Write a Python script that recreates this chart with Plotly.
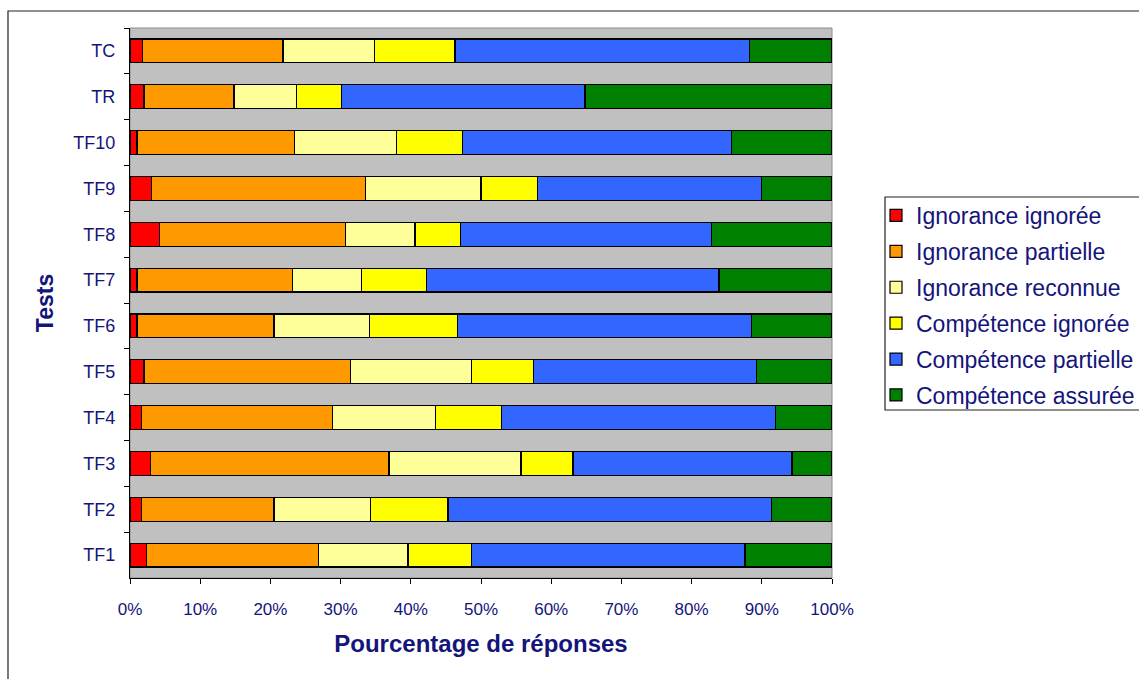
import plotly.graph_objects as go

# Tests, listed from top to bottom
tests = ["TC", "TR", "TF10", "TF9", "TF8", "TF7", "TF6", "TF5", "TF4", "TF3", "TF2", "TF1"]

# Percentage of answers per category
ignorance_ignoree = [1.8, 2.0, 1.0, 3.1, 4.2, 1.0, 1.0, 2.0, 1.6, 2.9, 1.6, 2.4]
ignorance_partielle = [20.0, 12.8, 22.4, 30.4, 26.5, 22.1, 19.5, 29.4, 27.3, 34.0, 18.9, 24.4]
ignorance_reconnue = [13.0, 8.9, 14.6, 16.5, 9.9, 9.9, 13.6, 17.3, 14.6, 18.8, 13.8, 12.8]
competence_ignoree = [11.5, 6.4, 9.4, 8.0, 6.5, 9.2, 12.5, 8.8, 9.4, 7.4, 11.0, 9.1]
competence_partielle = [41.9, 34.7, 38.3, 31.9, 35.7, 41.7, 41.9, 31.8, 39.1, 31.2, 46.1, 38.9]
competence_assuree = [11.8, 35.2, 14.3, 10.1, 17.2, 16.1, 11.5, 10.7, 8.0, 5.7, 8.6, 12.4]

series_names = [
    "Ignorance ignorée",
    "Ignorance partielle",
    "Ignorance reconnue",
    "Compétence ignorée",
    "Compétence partielle",
    "Compétence assurée",
]
series_values = [
    ignorance_ignoree,
    ignorance_partielle,
    ignorance_reconnue,
    competence_ignoree,
    competence_partielle,
    competence_assuree,
]
series_colors = ["#FF0000", "#FF9900", "#FFFF99", "#FFFF00", "#3366FF", "#008000"]

NAVY = "#14147a"
FONT = "Liberation Sans, Arial, sans-serif"

W, H = 1139, 679
L, R, T, B = 130, 832, 28, 578

fig = go.Figure()
for name, vals, col in zip(series_names, series_values, series_colors):
    fig.add_trace(go.Bar(
        y=tests, x=vals, name=name, orientation="h",
        marker=dict(color=col, line=dict(color="black", width=1.2)),
        legendgroup=name,
    ))

def px(xp):
    return (xp - L) / (R - L)

def py(yp):
    return (B - yp) / (B - T)

shapes = [
    # outer frame around the whole chart
    dict(type="rect", xref="paper", yref="paper",
         x0=px(8), x1=px(1160), y0=py(700), y1=py(11),
         line=dict(color="#222222", width=1.2), layer="below"),
    # plot area border
    dict(type="rect", xref="paper", yref="paper",
         x0=0, x1=1, y0=0, y1=1,
         line=dict(color="#8c8c8c", width=1), layer="below"),
    # legend box
    dict(type="rect", xref="paper", yref="paper",
         x0=px(885), x1=px(1170), y0=py(410), y1=py(197),
         line=dict(color="#222222", width=1.2), fillcolor="white", layer="below"),
]

fig.update_layout(
    width=W, height=H,
    margin=dict(l=L, r=W - R, t=T, b=H - B, autoexpand=False),
    barmode="stack",
    bargap=0.48,
    plot_bgcolor="#C0C0C0",
    paper_bgcolor="white",
    font=dict(family=FONT, color=NAVY, size=18),
    shapes=shapes,
    showlegend=True,
    legend=dict(
        x=px(876), xanchor="left", y=py(194), yanchor="top",
        borderwidth=0, bgcolor="rgba(0,0,0,0)",
        font=dict(size=23, color=NAVY, family=FONT),
        traceorder="grouped", tracegroupgap=3,
        itemwidth=30,
    ),
    xaxis=dict(
        range=[0, 100], dtick=10, ticksuffix="%",
        showgrid=False, zeroline=False,
        showline=True, linecolor="black", linewidth=1.2,
        ticks="outside", ticklen=5, tickcolor="black",
        ticklabelstandoff=10,
        tickfont=dict(size=17, color=NAVY),
        title=dict(text="<b>Pourcentage de réponses</b>",
                   font=dict(size=24, color=NAVY), standoff=17),
    ),
    yaxis=dict(
        autorange="reversed", type="category",
        showgrid=False, zeroline=False,
        showline=True, linecolor="black", linewidth=1.2,
        ticks="outside", ticklen=5, tickcolor="black",
        tickson="boundaries",
        ticklabelstandoff=10,
        tickfont=dict(size=18, color=NAVY),
        title=dict(text="<b>Tests</b>", font=dict(size=23, color=NAVY), standoff=13),
    ),
)

fig.write_html("out.html")
